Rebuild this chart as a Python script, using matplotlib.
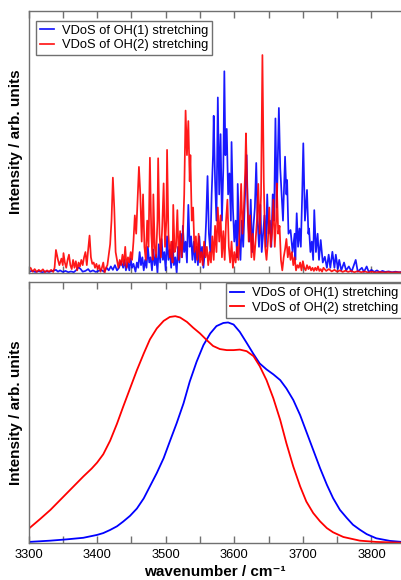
import numpy as np
import matplotlib
matplotlib.use('Agg')
import matplotlib.pyplot as plt
from matplotlib.ticker import MultipleLocator

plt.rcParams['font.family'] = ['Liberation Sans', 'DejaVu Sans']

# Raw VDoS spectra (upper panel): (wavenumber, intensity)
oh1_raw = [
    (3300, 0.005), (3305, 0.008), (3310, 0.004), (3315, 0.007), (3320, 0.003), (3325, 0.006),
    (3330, 0.004), (3335, 0.008), (3340, 0.012), (3343, 0.005), (3346, 0.010), (3350, 0.004),
    (3354, 0.008), (3358, 0.003), (3362, 0.006), (3366, 0.003), (3370, 0.012), (3373, 0.022),
    (3376, 0.015), (3379, 0.005), (3383, 0.008), (3387, 0.015), (3390, 0.005), (3394, 0.010),
    (3398, 0.004), (3402, 0.008), (3406, 0.012), (3410, 0.005), (3414, 0.020), (3417, 0.010),
    (3420, 0.025), (3423, 0.012), (3426, 0.030), (3429, 0.010), (3432, 0.020), (3435, 0.045),
    (3438, 0.020), (3440, 0.050), (3442, 0.010), (3445, 0.040), (3447, 0.010), (3449, 0.055),
    (3451, 0.020), (3453, 0.035), (3456, 0.005), (3458, 0.040), (3460, 0.020), (3462, 0.080),
    (3464, 0.030), (3466, 0.060), (3468, 0.010), (3470, 0.050), (3472, 0.020), (3474, 0.100),
    (3476, 0.040), (3478, 0.060), (3480, 0.010), (3482, 0.090), (3484, 0.030), (3486, 0.070),
    (3488, 0.000), (3490, 0.110), (3492, 0.040), (3494, 0.130), (3496, 0.050), (3498, 0.080),
    (3500, 0.010), (3502, 0.140), (3504, 0.050), (3506, 0.090), (3508, 0.020), (3510, 0.120),
    (3512, 0.030), (3514, 0.060), (3516, 0.000), (3518, 0.100), (3520, 0.040), (3522, 0.150),
    (3524, 0.060), (3525, 0.180), (3527, 0.080), (3529, 0.120), (3531, 0.040), (3533, 0.260),
    (3535, 0.100), (3537, 0.140), (3539, 0.050), (3541, 0.120), (3543, 0.040), (3545, 0.100),
    (3547, 0.030), (3549, 0.140), (3551, 0.060), (3553, 0.100), (3555, 0.020), (3557, 0.080),
    (3559, 0.200), (3561, 0.370), (3563, 0.150), (3565, 0.080), (3567, 0.300), (3569, 0.450),
    (3570, 0.600), (3572, 0.350), (3574, 0.200), (3576, 0.670), (3578, 0.300), (3580, 0.530),
    (3582, 0.200), (3584, 0.400), (3585.5, 0.770), (3587, 0.450), (3589, 0.550), (3591, 0.300),
    (3593, 0.380), (3595, 0.200), (3596, 0.500), (3598, 0.250), (3600, 0.120), (3602, 0.200),
    (3604, 0.060), (3605, 0.340), (3607, 0.150), (3609, 0.050), (3611, 0.200), (3613, 0.100),
    (3615, 0.250), (3618, 0.450), (3620, 0.200), (3622, 0.120), (3624, 0.280), (3626, 0.080),
    (3628, 0.180), (3630, 0.250), (3632, 0.420), (3634, 0.200), (3636, 0.100), (3638, 0.260),
    (3640, 0.080), (3642, 0.150), (3644, 0.220), (3646, 0.100), (3648, 0.300), (3650, 0.150),
    (3652, 0.200), (3654, 0.100), (3656, 0.300), (3658, 0.200), (3660, 0.590), (3662, 0.250),
    (3665, 0.630), (3667, 0.400), (3669, 0.300), (3671, 0.200), (3674, 0.444), (3676, 0.300),
    (3677, 0.355), (3679, 0.150), (3682, 0.164), (3685, 0.080), (3688, 0.150), (3689, 0.050),
    (3691, 0.228), (3693, 0.100), (3695, 0.170), (3697, 0.100), (3699, 0.300), (3700.6, 0.495),
    (3703, 0.200), (3706, 0.317), (3708, 0.150), (3709, 0.170), (3711, 0.080), (3713, 0.120),
    (3715, 0.050), (3716.6, 0.240), (3719, 0.080), (3721.5, 0.150), (3723.5, 0.050),
    (3726, 0.126), (3729, 0.040), (3732, 0.062), (3735, 0.020), (3737.6, 0.070), (3740, 0.020),
    (3743, 0.081), (3746, 0.020), (3748, 0.070), (3751, 0.015), (3753, 0.050), (3756, 0.010),
    (3760, 0.040), (3763, 0.010), (3767, 0.025), (3771, 0.005), (3777, 0.050), (3780, 0.005),
    (3786, 0.020), (3789, 0.004), (3793, 0.025), (3796, 0.004), (3800, 0.012), (3804, 0.004),
    (3808, 0.010), (3812, 0.003), (3816, 0.008), (3820, 0.004), (3825, 0.006), (3830, 0.003),
    (3835, 0.005), (3840, 0.003), (3845, 0.004),
]

oh2_raw = [
    (3300, 0.010), (3303, 0.020), (3306, 0.005), (3309, 0.015), (3312, 0.004), (3315, 0.012),
    (3318, 0.006), (3321, 0.014), (3324, 0.003), (3327, 0.010), (3330, 0.005), (3333, 0.012),
    (3336, 0.004), (3338, 0.020), (3340, 0.088), (3343, 0.050), (3345, 0.030), (3348, 0.055),
    (3350, 0.030), (3351, 0.076), (3353, 0.040), (3355, 0.020), (3357, 0.050), (3359, 0.070),
    (3361, 0.030), (3363, 0.015), (3365, 0.050), (3367, 0.020), (3369, 0.045), (3371, 0.010),
    (3373, 0.040), (3375, 0.025), (3377, 0.050), (3379, 0.030), (3381, 0.060), (3383, 0.080),
    (3385, 0.030), (3387, 0.090), (3389, 0.143), (3391, 0.060), (3393, 0.035), (3395, 0.040),
    (3397, 0.020), (3399, 0.035), (3401, 0.015), (3403, 0.030), (3405, 0.005), (3407, 0.020),
    (3409, 0.040), (3411, 0.000), (3413, 0.020), (3415, 0.030), (3417, 0.070), (3419, 0.110),
    (3421, 0.200), (3423, 0.364), (3425, 0.250), (3427, 0.080), (3429, 0.050), (3431, 0.020),
    (3433, 0.050), (3435, 0.030), (3437, 0.070), (3439, 0.030), (3441, 0.100), (3443, 0.020),
    (3445, 0.060), (3447, 0.040), (3449, 0.080), (3451, 0.050), (3453, 0.120), (3455, 0.220),
    (3457, 0.150), (3459, 0.280), (3461, 0.405), (3463, 0.300), (3465, 0.120), (3467, 0.300),
    (3469, 0.100), (3471, 0.050), (3473, 0.200), (3475, 0.100), (3477, 0.440), (3479, 0.150),
    (3481, 0.050), (3482, 0.300), (3484, 0.100), (3486, 0.060), (3488, 0.200), (3489, 0.438),
    (3491, 0.150), (3493, 0.060), (3495, 0.180), (3497, 0.342), (3499, 0.100), (3501, 0.200),
    (3502, 0.470), (3504, 0.150), (3506, 0.060), (3508, 0.120), (3510, 0.040), (3511, 0.260),
    (3513, 0.080), (3515, 0.100), (3517, 0.240), (3519, 0.050), (3521, 0.160), (3523, 0.060),
    (3525, 0.130), (3527, 0.300), (3529, 0.620), (3531, 0.450), (3533, 0.580), (3535, 0.350),
    (3536, 0.450), (3538, 0.200), (3540, 0.250), (3542, 0.080), (3544, 0.140), (3546, 0.050),
    (3548, 0.150), (3550, 0.040), (3552, 0.080), (3554, 0.030), (3556, 0.120), (3558, 0.060),
    (3560, 0.100), (3562, 0.030), (3564, 0.080), (3566, 0.040), (3568, 0.140), (3570, 0.050),
    (3572, 0.180), (3574, 0.080), (3576, 0.250), (3578, 0.120), (3580, 0.220), (3582, 0.060),
    (3584, 0.160), (3586, 0.050), (3588, 0.200), (3590, 0.280), (3592, 0.100), (3594, 0.040),
    (3596, 0.120), (3598, 0.020), (3600, 0.080), (3602, 0.040), (3604, 0.100), (3606, 0.050),
    (3608, 0.180), (3610, 0.340), (3612, 0.150), (3614, 0.250), (3616, 0.400), (3617, 0.533),
    (3619, 0.300), (3621, 0.120), (3623, 0.220), (3625, 0.060), (3627, 0.150), (3629, 0.050),
    (3631, 0.120), (3633, 0.200), (3635, 0.340), (3637, 0.150), (3639, 0.300), (3641, 0.832),
    (3643, 0.350), (3645, 0.100), (3647, 0.050), (3649, 0.120), (3651, 0.250), (3653, 0.100),
    (3655, 0.150), (3657, 0.280), (3659, 0.100), (3661, 0.200), (3662, 0.342), (3664, 0.150),
    (3666, 0.180), (3668, 0.050), (3670, 0.010), (3672, 0.060), (3674, 0.090), (3676, 0.130),
    (3678, 0.060), (3680, 0.100), (3682, 0.050), (3684, 0.080), (3686, 0.030), (3688, 0.060),
    (3690, 0.010), (3692, 0.030), (3694, 0.020), (3696, 0.040), (3698, 0.010), (3700, 0.045),
    (3702, 0.020), (3704, 0.010), (3706, 0.030), (3708, 0.015), (3710, 0.025), (3712, 0.010),
    (3714, 0.020), (3716, 0.008), (3718, 0.020), (3720, 0.010), (3722, 0.025), (3724, 0.008),
    (3726, 0.015), (3728, 0.005), (3730, 0.020), (3734, 0.008), (3738, 0.015), (3742, 0.006),
    (3746, 0.012), (3750, 0.005), (3754, 0.010), (3758, 0.004), (3762, 0.009), (3766, 0.004),
    (3770, 0.008), (3775, 0.003), (3780, 0.007), (3785, 0.003), (3790, 0.006), (3795, 0.002),
    (3800, 0.005), (3806, 0.002), (3812, 0.004), (3818, 0.002), (3824, 0.004), (3830, 0.002),
    (3836, 0.003), (3845, 0.002),
]

# Broadened VDoS (lower panel)
oh1_wn = [3300, 3332, 3356, 3380, 3400, 3409, 3419, 3429, 3438, 3448, 3458, 3468, 3477,
          3487, 3497, 3506, 3516, 3526, 3535, 3545, 3555, 3565, 3574, 3584, 3591, 3599,
          3608, 3618, 3628, 3637, 3647, 3657, 3667, 3676, 3686, 3696, 3705, 3715, 3725,
          3735, 3744, 3754, 3764, 3773, 3783, 3793, 3807, 3827, 3845]
oh1_int = [0.004, 0.009, 0.014, 0.020, 0.031, 0.038, 0.050, 0.064, 0.082, 0.104, 0.132,
           0.171, 0.217, 0.268, 0.325, 0.389, 0.459, 0.535, 0.618, 0.694, 0.758, 0.803,
           0.831, 0.843, 0.845, 0.837, 0.809, 0.767, 0.724, 0.688, 0.665, 0.646, 0.624,
           0.592, 0.548, 0.490, 0.427, 0.357, 0.287, 0.223, 0.172, 0.127, 0.096, 0.070,
           0.051, 0.034, 0.018, 0.008, 0.004]

oh2_wn = [3300, 3317, 3332, 3344, 3356, 3368, 3380, 3392, 3400, 3409, 3419, 3429, 3438,
          3448, 3458, 3468, 3477, 3487, 3497, 3506, 3514, 3521, 3531, 3540, 3550, 3560,
          3569, 3579, 3589, 3599, 3608, 3618, 3628, 3637, 3647, 3657, 3667, 3676, 3686,
          3696, 3705, 3715, 3725, 3735, 3744, 3759, 3783, 3807, 3845]
oh2_int = [0.054, 0.092, 0.127, 0.159, 0.191, 0.223, 0.255, 0.285, 0.308, 0.340, 0.392,
           0.457, 0.522, 0.592, 0.662, 0.726, 0.780, 0.822, 0.851, 0.866, 0.869, 0.864,
           0.847, 0.825, 0.803, 0.777, 0.755, 0.743, 0.739, 0.739, 0.741, 0.735, 0.716,
           0.678, 0.624, 0.554, 0.471, 0.382, 0.293, 0.217, 0.159, 0.115, 0.083, 0.057,
           0.041, 0.023, 0.009, 0.004, 0.001]

labels = ['VDoS of OH(1) stretching', 'VDoS of OH(2) stretching']

fig = plt.figure(figsize=(4.02, 5.80), dpi=100)
ax1 = fig.add_axes([0.0709, 0.5293, 0.9291, 0.4517])
ax2 = fig.add_axes([0.0709, 0.0638, 0.9291, 0.4500])

w1, i1 = zip(*oh1_raw)
w2, i2 = zip(*oh2_raw)
ax1.plot(w1, i1, color='#0000ff', lw=1.25, alpha=0.9, label=labels[0])
ax1.plot(w2, i2, color='#ff0000', lw=1.25, alpha=0.9, label=labels[1])

ax2.plot(oh1_wn, oh1_int, color='#0000ff', lw=1.3, label=labels[0])
ax2.plot(oh2_wn, oh2_int, color='#ff0000', lw=1.3, label=labels[1])

spine_col = '#707070'
for ax in (ax1, ax2):
    ax.set_xlim(3300, 3844.5)
    ax.set_ylim(0, 1)
    ax.set_yticks([])
    ax.xaxis.set_major_locator(MultipleLocator(100))
    ax.xaxis.set_minor_locator(MultipleLocator(50))
    ax.tick_params(axis='x', which='both', direction='in', top=True, bottom=True,
                   length=5, width=1, color=spine_col, labelsize=9.3, pad=4)
    ax.spines['right'].set_visible(False)
    for s in ('left', 'top', 'bottom'):
        ax.spines[s].set_color(spine_col)
        ax.spines[s].set_linewidth(1)
    ax.set_ylabel('Intensity / arb. units', fontsize=11, fontweight='bold')
    ax.yaxis.set_label_coords(-0.015, 0.5)

ax1.tick_params(axis='x', labelbottom=False)
ax2.set_xlabel('wavenumber / cm\u207b\u00b9', fontsize=11, fontweight='bold')
ax2.xaxis.label.set_va('baseline')
ax2.xaxis.set_label_coords(0.5, -0.128)

leg_kw = dict(fontsize=9.3, fancybox=False, edgecolor=spine_col, framealpha=1,
              handlelength=1.1, handletextpad=0.6, borderpad=0.3, labelspacing=0.2,
              borderaxespad=0)
l1 = ax1.legend(loc='upper left', bbox_to_anchor=(0.020, 0.963), **leg_kw)
l2 = ax2.legend(loc='upper left', bbox_to_anchor=(0.529, 0.995), **leg_kw)
for leg in (l1, l2):
    leg.get_frame().set_linewidth(1)

fig.savefig('out.png', dpi=100)
